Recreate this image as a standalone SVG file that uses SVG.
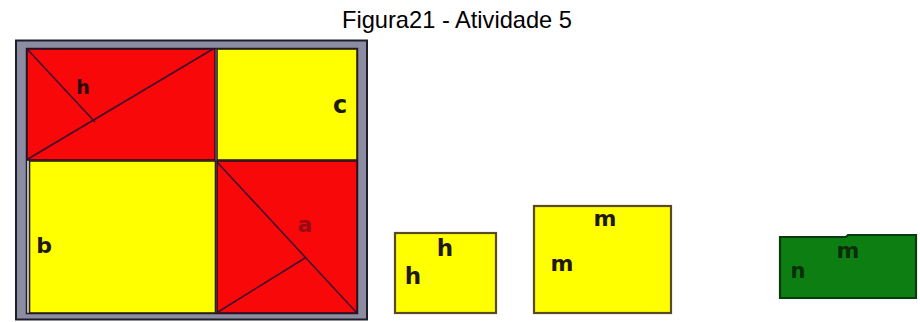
<svg xmlns="http://www.w3.org/2000/svg" width="920" height="322" viewBox="0 0 920 322">
  <style>
    .red{fill:#f80808;stroke:#2a0e22;stroke-width:1.6}
    .yel{fill:#ffff00;stroke:#2a1e1a;stroke-width:1.6}
    .ybox{fill:#ffff00;stroke:#5a4a1e;stroke-width:2.2}
    .gbox{fill:#0d7f12;stroke:#0b3a0e;stroke-width:2.2}
    .ln{stroke:#3a0a30;stroke-width:1.5;fill:none}
    .lbl{font-family:"DejaVu Sans","Liberation Sans",sans-serif;font-weight:bold;fill:#1e1a10}
    .title{font-family:"Liberation Sans",Arial,sans-serif;font-size:24px;fill:#000}
  </style>
  <rect width="920" height="322" fill="#ffffff"/>
  <g id="title">
    <text class="title" x="342" y="28" textLength="230" lengthAdjust="spacingAndGlyphs">Figura21 - Atividade 5</text>
  </g>
  <g id="frame">
    <rect x="16" y="40.5" width="351" height="279" fill="#8c8ca2" stroke="#1e1e2a" stroke-width="2"/>
    <rect x="26.5" y="48.5" width="331" height="265" fill="#f4f2e8" stroke="#1e1e2a" stroke-width="1.5"/>
  </g>
  <g id="square-top-left">
    <rect class="red" x="27" y="49" width="188" height="111"/>
    <line class="ln" x1="28" y1="159" x2="213" y2="49"/>
    <line class="ln" x1="28" y1="50" x2="95" y2="122"/>
    <text class="lbl" x="83" y="94" font-size="19" text-anchor="middle" style="fill:#2a0a10">h</text>
  </g>
  <g id="square-top-right">
    <rect class="yel" x="217" y="49" width="140" height="111"/>
    <text class="lbl" x="340" y="113" font-size="24" text-anchor="middle">c</text>
  </g>
  <g id="square-bottom-left">
    <rect class="yel" x="29.5" y="161" width="186" height="152"/>
    <text class="lbl" x="44" y="253" font-size="22" text-anchor="middle">b</text>
  </g>
  <g id="square-bottom-right">
    <rect class="red" x="217" y="161" width="140" height="152"/>
    <line class="ln" x1="217" y1="162" x2="356" y2="312"/>
    <line class="ln" x1="218" y1="312" x2="305" y2="258"/>
    <text class="lbl" x="305" y="232" font-size="22" text-anchor="middle" style="fill:#9a0a14">a</text>
  </g>
  <g id="square-h">
    <rect class="ybox" x="395" y="233" width="101" height="80"/>
    <text class="lbl" x="445" y="256" font-size="23" text-anchor="middle">h</text>
    <text class="lbl" x="413" y="284" font-size="23" text-anchor="middle">h</text>
  </g>
  <g id="square-m">
    <rect class="ybox" x="534" y="206" width="137" height="107"/>
    <text class="lbl" x="605" y="226" font-size="22" text-anchor="middle">m</text>
    <text class="lbl" x="562" y="271" font-size="22" text-anchor="middle">m</text>
  </g>
  <g id="rect-mn">
    <path class="gbox" d="M780,237 L846,237 L848,235 L916,235 L916,298 L780,298 Z"/>
    <text class="lbl" x="848" y="258" font-size="22" text-anchor="middle" style="fill:#0a2e0a">m</text>
    <text class="lbl" x="798" y="278" font-size="21" text-anchor="middle" style="fill:#0a2e0a">n</text>
  </g>
</svg>
